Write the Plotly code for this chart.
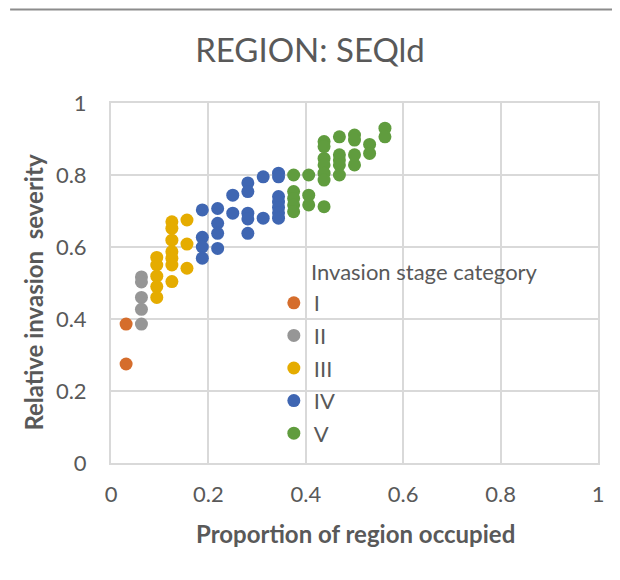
import plotly.graph_objects as go

# ---- data ----
stage_names = ["I", "II", "III", "IV", "V"]

x_I = [0.031, 0.031]
y_I = [0.386, 0.275]

x_II = [0.0625, 0.0625, 0.0625, 0.0625, 0.0625]
y_II = [0.517, 0.503, 0.460, 0.427, 0.386]

x_III = [0.094, 0.094, 0.094, 0.094, 0.094,
         0.125, 0.125, 0.125, 0.125, 0.125, 0.125, 0.125,
         0.156, 0.156, 0.156]
y_III = [0.571, 0.550, 0.519, 0.490, 0.460,
         0.670, 0.652, 0.619, 0.587, 0.569, 0.550, 0.504,
         0.675, 0.608, 0.541]

x_IV = [0.1875, 0.1875, 0.1875, 0.1875,
        0.219, 0.219, 0.219, 0.219,
        0.25, 0.25,
        0.281, 0.281, 0.281, 0.281, 0.281,
        0.3125, 0.3125,
        0.344, 0.344, 0.344, 0.344, 0.344, 0.344, 0.344]
y_IV = [0.703, 0.627, 0.600, 0.569,
        0.707, 0.666, 0.638, 0.596,
        0.744, 0.694,
        0.778, 0.754, 0.694, 0.678, 0.638,
        0.795, 0.680,
        0.805, 0.795, 0.740, 0.725, 0.710, 0.695, 0.680]

x_V = [0.375, 0.375, 0.375, 0.375, 0.375,
       0.406, 0.406, 0.406,
       0.4375, 0.4375, 0.4375, 0.4375, 0.4375, 0.4375, 0.4375,
       0.469, 0.469, 0.469, 0.469, 0.469,
       0.5, 0.5, 0.5, 0.5,
       0.531, 0.531,
       0.5625, 0.5625]
y_V = [0.800, 0.754, 0.735, 0.717, 0.698,
       0.800, 0.744, 0.717,
       0.893, 0.879, 0.846, 0.828, 0.805, 0.786, 0.712,
       0.906, 0.856, 0.842, 0.828, 0.800,
       0.911, 0.897, 0.856, 0.828,
       0.885, 0.860,
       0.930, 0.906]

x_ticks = [0, 0.2, 0.4, 0.6, 0.8, 1]
y_ticks = [0, 0.2, 0.4, 0.6, 0.8, 1]
tick_text = ["0", "0.2", "0.4", "0.6", "0.8", "1"]

colors = ["#D56D2C", "#969696", "#E5AC00", "#3F66B2", "#609C3E"]

FONT = "Lato, 'Open Sans', sans-serif"
TXT = "#595959"
GRID = "#D9D9D9"

# page pixel geometry of the plotting area (the page body adds an 8px offset)
PX_L, PX_R, PX_T, PX_B = 111.0, 598.5, 103.0, 463.0
OFF = 8
W, H = 620, 580


def px(xp):
    return (xp - PX_L) / (PX_R - PX_L)


def py(yp):
    return (PX_B - yp) / (PX_B - PX_T)


fig = go.Figure()
series = [(x_I, y_I), (x_II, y_II), (x_III, y_III), (x_IV, y_IV), (x_V, y_V)]
for name, (xs, ys), c in zip(stage_names, series, colors):
    fig.add_trace(go.Scatter(
        x=xs, y=ys, mode="markers", name=name, legendgroup=name,
        marker=dict(color=c, size=13, line=dict(width=0)),
    ))

axis_common = dict(
    range=[0, 1], tickvals=x_ticks, ticktext=tick_text,
    showgrid=True, gridcolor=GRID, gridwidth=2,
    showline=True, linecolor=GRID, linewidth=2, mirror=True,
    zeroline=False, ticks="",
    tickfont=dict(family=FONT, size=22, color=TXT),
    fixedrange=True,
)

fig.update_layout(
    width=W, height=H,
    margin=dict(l=PX_L - OFF, r=W + OFF - PX_R, t=PX_T - OFF, b=H + OFF - PX_B),
    paper_bgcolor="white", plot_bgcolor="white",
    title=dict(text="REGION: SEQld", x=(310 - OFF) / W, xref="container", xanchor="center",
               y=1 - (50 - OFF) / H, yref="container", yanchor="middle",
               font=dict(family=FONT, size=33, color=TXT)),
    xaxis=dict(axis_common, ticklabelstandoff=11),
    yaxis=dict(axis_common, ticklabelstandoff=18),
    showlegend=True,
    legend=dict(x=px(274), y=py(282), xanchor="left", yanchor="top",
                bgcolor="rgba(0,0,0,0)", tracegroupgap=1,
                font=dict(family=FONT, size=22, color=TXT)),
    shapes=[
        dict(type="line", xref="paper", yref="paper",
             x0=px(10), x1=px(630), y0=py(9.5), y1=py(9.5),
             line=dict(color="#8C8C8C", width=2)),
        dict(type="rect", xref="paper", yref="paper", layer="between",
             x0=px(280), x1=px(308), y0=py(283), y1=py(238),
             fillcolor="white", line=dict(width=0)),
    ],
    annotations=[
        dict(text="Invasion stage category", xref="paper", yref="paper",
             x=px(309), y=py(271.5), xanchor="left", yanchor="middle",
             showarrow=False, font=dict(family=FONT, size=22, color=TXT)),
        dict(text="<b>Proportion of region occupied</b>", xref="paper", yref="paper",
             x=px(356), y=py(533), xanchor="center", yanchor="middle",
             showarrow=False, font=dict(family=FONT, size=24, color=TXT)),
        dict(text="<b>Relative invasion&nbsp; severity</b>", xref="paper", yref="paper",
             x=px(33), y=py(292.5), xanchor="center", yanchor="middle", textangle=-90,
             showarrow=False, font=dict(family=FONT, size=24, color=TXT)),
    ],
)

fig.write_html("out.html")
